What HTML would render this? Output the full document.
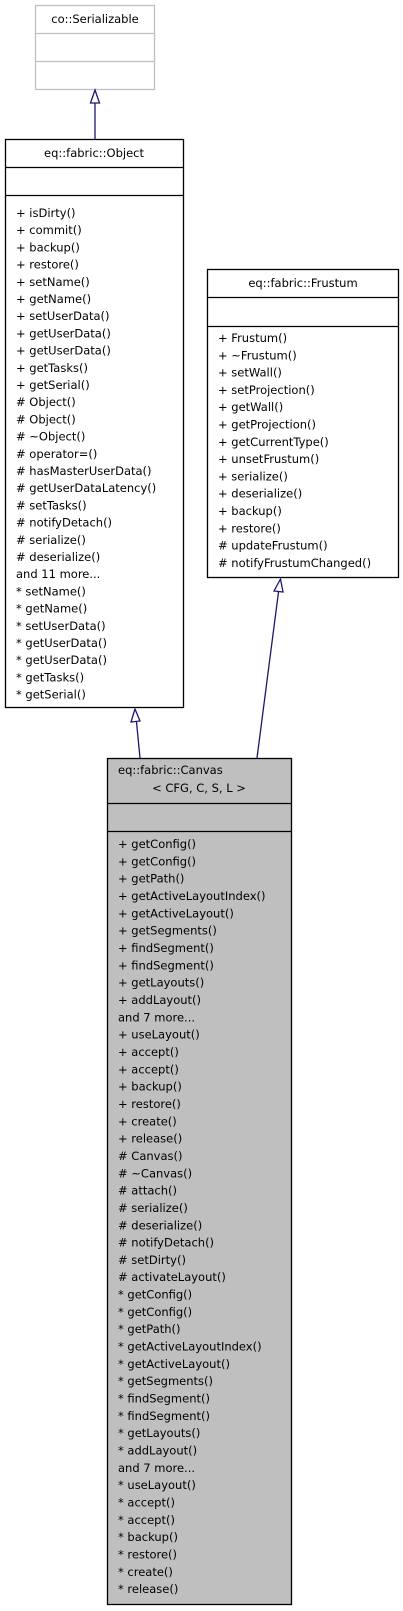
<!DOCTYPE html>
<html><head><meta charset="utf-8"><style>
html,body{margin:0;padding:0;background:#fff;}
svg{display:block;}
text{font-family:"DejaVu Sans","Liberation Sans",sans-serif;font-size:11.5px;fill:#000;}
</style></head><body>
<svg width="403" height="1611" viewBox="0 0 403 1611" xmlns="http://www.w3.org/2000/svg">
<!-- Serializable -->
<rect x="35.5" y="5.5" width="119" height="84" fill="#fff" stroke="#bfbfbf" stroke-width="1.3"/>
<line x1="35.5" y1="33.5" x2="154.5" y2="33.5" stroke="#bfbfbf" stroke-width="1.3"/>
<line x1="35.5" y1="61.5" x2="154.5" y2="61.5" stroke="#bfbfbf" stroke-width="1.3"/>
<text x="95" y="23" text-anchor="middle">co::Serializable</text>
<!-- arrow Object -> Serializable -->
<line x1="95" y1="139" x2="95" y2="103" stroke="#191970" stroke-width="1.3"/>
<polygon points="95,90 90.5,103 99.5,103" fill="#fff" stroke="#191970" stroke-width="1.3"/>

<!-- Object -->
<rect x="5.5" y="139.5" width="178" height="568" fill="#fff" stroke="#000" stroke-width="1.3"/>
<line x1="5.5" y1="167.5" x2="183.5" y2="167.5" stroke="#000" stroke-width="1.3"/>
<line x1="5.5" y1="195.5" x2="183.5" y2="195.5" stroke="#000" stroke-width="1.3"/>
<text x="94" y="157" text-anchor="middle">eq::fabric::Object</text>
<text x="16" y="217">
<tspan x="16" dy="0">+ isDirty()</tspan>
<tspan x="16" dy="17.2">+ commit()</tspan>
<tspan x="16" dy="17.2">+ backup()</tspan>
<tspan x="16" dy="17.2">+ restore()</tspan>
<tspan x="16" dy="17.2">+ setName()</tspan>
<tspan x="16" dy="17.2">+ getName()</tspan>
<tspan x="16" dy="17.2">+ setUserData()</tspan>
<tspan x="16" dy="17.2">+ getUserData()</tspan>
<tspan x="16" dy="17.2">+ getUserData()</tspan>
<tspan x="16" dy="17.2">+ getTasks()</tspan>
<tspan x="16" dy="17.2">+ getSerial()</tspan>
<tspan x="16" dy="17.2"># Object()</tspan>
<tspan x="16" dy="17.2"># Object()</tspan>
<tspan x="16" dy="17.2"># ~Object()</tspan>
<tspan x="16" dy="17.2"># operator=()</tspan>
<tspan x="16" dy="17.2"># hasMasterUserData()</tspan>
<tspan x="16" dy="17.2"># getUserDataLatency()</tspan>
<tspan x="16" dy="17.2"># setTasks()</tspan>
<tspan x="16" dy="17.2"># notifyDetach()</tspan>
<tspan x="16" dy="17.2"># serialize()</tspan>
<tspan x="16" dy="17.2"># deserialize()</tspan>
<tspan x="16" dy="17.2">and 11 more...</tspan>
<tspan x="16" dy="17.2">* setName()</tspan>
<tspan x="16" dy="17.2">* getName()</tspan>
<tspan x="16" dy="17.2">* setUserData()</tspan>
<tspan x="16" dy="17.2">* getUserData()</tspan>
<tspan x="16" dy="17.2">* getUserData()</tspan>
<tspan x="16" dy="17.2">* getTasks()</tspan>
<tspan x="16" dy="17.2">* getSerial()</tspan>
</text>

<!-- Frustum -->
<rect x="207.5" y="269.5" width="191" height="308" fill="#fff" stroke="#000" stroke-width="1.3"/>
<line x1="207.5" y1="297.5" x2="398.5" y2="297.5" stroke="#000" stroke-width="1.3"/>
<line x1="207.5" y1="326.5" x2="398.5" y2="326.5" stroke="#000" stroke-width="1.3"/>
<text x="303" y="287" text-anchor="middle">eq::fabric::Frustum</text>
<text x="218" y="342">
<tspan x="218" dy="0">+ Frustum()</tspan>
<tspan x="218" dy="17.3">+ ~Frustum()</tspan>
<tspan x="218" dy="17.3">+ setWall()</tspan>
<tspan x="218" dy="17.3">+ setProjection()</tspan>
<tspan x="218" dy="17.3">+ getWall()</tspan>
<tspan x="218" dy="17.3">+ getProjection()</tspan>
<tspan x="218" dy="17.3">+ getCurrentType()</tspan>
<tspan x="218" dy="17.3">+ unsetFrustum()</tspan>
<tspan x="218" dy="17.3">+ serialize()</tspan>
<tspan x="218" dy="17.3">+ deserialize()</tspan>
<tspan x="218" dy="17.3">+ backup()</tspan>
<tspan x="218" dy="17.3">+ restore()</tspan>
<tspan x="218" dy="17.3"># updateFrustum()</tspan>
<tspan x="218" dy="17.3"># notifyFrustumChanged()</tspan>
</text>

<!-- arrows to Canvas -->
<line x1="140" y1="758" x2="136.5" y2="722" stroke="#191970" stroke-width="1.3"/>
<polygon points="135,709 131,722 140,721" fill="#fff" stroke="#191970" stroke-width="1.3"/>
<line x1="257" y1="758" x2="278.5" y2="592" stroke="#191970" stroke-width="1.3"/>
<polygon points="280.5,579 274,591 283,592" fill="#fff" stroke="#191970" stroke-width="1.3"/>

<!-- Canvas -->
<rect x="107.5" y="758.5" width="184" height="846" fill="#bfbfbf" stroke="#000" stroke-width="1.3"/>
<line x1="107.5" y1="803.5" x2="291.5" y2="803.5" stroke="#000" stroke-width="1.3"/>
<line x1="107.5" y1="831.5" x2="291.5" y2="831.5" stroke="#000" stroke-width="1.3"/>
<text x="118" y="774">eq::fabric::Canvas</text>
<text x="199" y="792" text-anchor="middle">&lt; CFG, C, S, L &gt;</text>
<text x="118" y="848">
<tspan x="118" dy="0">+ getConfig()</tspan>
<tspan x="118" dy="17.33">+ getConfig()</tspan>
<tspan x="118" dy="17.33">+ getPath()</tspan>
<tspan x="118" dy="17.33">+ getActiveLayoutIndex()</tspan>
<tspan x="118" dy="17.33">+ getActiveLayout()</tspan>
<tspan x="118" dy="17.33">+ getSegments()</tspan>
<tspan x="118" dy="17.33">+ findSegment()</tspan>
<tspan x="118" dy="17.33">+ findSegment()</tspan>
<tspan x="118" dy="17.33">+ getLayouts()</tspan>
<tspan x="118" dy="17.33">+ addLayout()</tspan>
<tspan x="118" dy="17.33">and 7 more...</tspan>
<tspan x="118" dy="17.33">+ useLayout()</tspan>
<tspan x="118" dy="17.33">+ accept()</tspan>
<tspan x="118" dy="17.33">+ accept()</tspan>
<tspan x="118" dy="17.33">+ backup()</tspan>
<tspan x="118" dy="17.33">+ restore()</tspan>
<tspan x="118" dy="17.33">+ create()</tspan>
<tspan x="118" dy="17.33">+ release()</tspan>
<tspan x="118" dy="17.33"># Canvas()</tspan>
<tspan x="118" dy="17.33"># ~Canvas()</tspan>
<tspan x="118" dy="17.33"># attach()</tspan>
<tspan x="118" dy="17.33"># serialize()</tspan>
<tspan x="118" dy="17.33"># deserialize()</tspan>
<tspan x="118" dy="17.33"># notifyDetach()</tspan>
<tspan x="118" dy="17.33"># setDirty()</tspan>
<tspan x="118" dy="17.33"># activateLayout()</tspan>
<tspan x="118" dy="17.33">* getConfig()</tspan>
<tspan x="118" dy="17.33">* getConfig()</tspan>
<tspan x="118" dy="17.33">* getPath()</tspan>
<tspan x="118" dy="17.33">* getActiveLayoutIndex()</tspan>
<tspan x="118" dy="17.33">* getActiveLayout()</tspan>
<tspan x="118" dy="17.33">* getSegments()</tspan>
<tspan x="118" dy="17.33">* findSegment()</tspan>
<tspan x="118" dy="17.33">* findSegment()</tspan>
<tspan x="118" dy="17.33">* getLayouts()</tspan>
<tspan x="118" dy="17.33">* addLayout()</tspan>
<tspan x="118" dy="17.33">and 7 more...</tspan>
<tspan x="118" dy="17.33">* useLayout()</tspan>
<tspan x="118" dy="17.33">* accept()</tspan>
<tspan x="118" dy="17.33">* accept()</tspan>
<tspan x="118" dy="17.33">* backup()</tspan>
<tspan x="118" dy="17.33">* restore()</tspan>
<tspan x="118" dy="17.33">* create()</tspan>
<tspan x="118" dy="17.33">* release()</tspan>
</text>
</svg>
</body></html>
